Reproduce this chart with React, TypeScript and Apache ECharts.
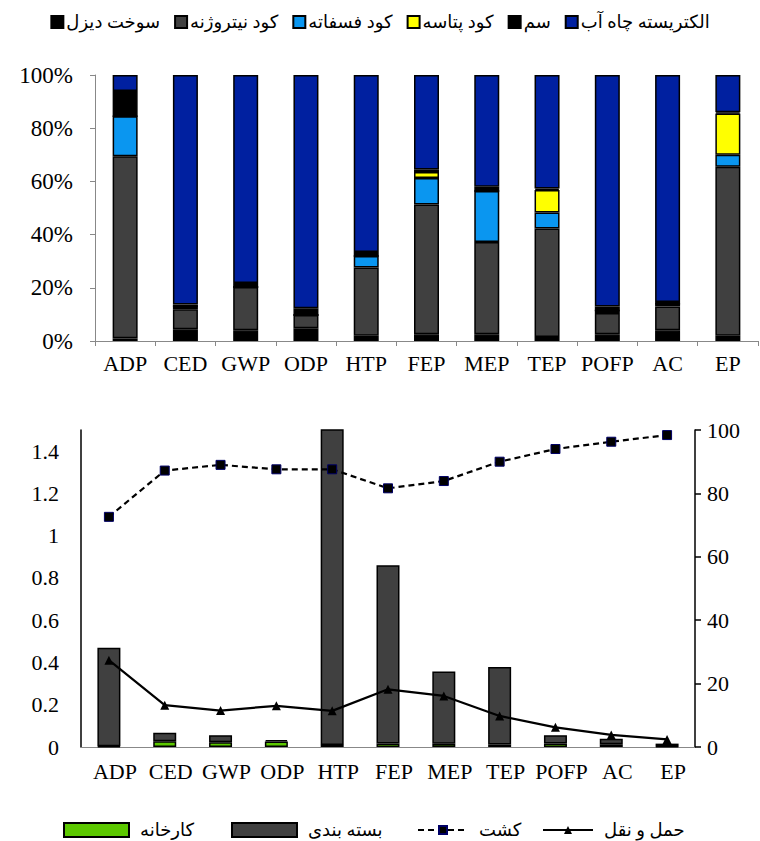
import React, { useEffect, useRef } from 'react';
import * as echarts from 'echarts';

const categories = ['ADP', 'CED', 'GWP', 'ODP', 'HTP', 'FEP', 'MEP', 'TEP', 'POFP', 'AC', 'EP'];

// Top chart: shares (%) per input
const diesel = [1, 4.4, 4, 4.8, 2, 2.5, 2.5, 1.5, 2.5, 4, 2];
const nitrogen = [68.5, 7.5, 16.3, 5, 25.6, 48.8, 34.7, 40.8, 8, 9, 63.5];
const phosphate = [15, 1.2, 0, 0, 4.4, 10, 19.2, 6, 1, 1, 4.5];
const potash = [0, 0, 0, 0, 0, 2.2, 0, 8.5, 0, 0, 15.5];
const poison = [9.5, 0.6, 1.5, 2.5, 1.5, 1, 1.6, 0.5, 1.5, 0.7, 0.5];
const electricity = [6, 86.3, 78.2, 87.7, 66.5, 35.5, 42, 42.7, 87, 85.3, 14];

const topNames = ['سوخت دیزل', 'کود نیتروژنه', 'کود فسفاته', 'کود پتاسه', 'سم', 'الکتریسته چاه آب'];
const topColors = ['#000000', '#404040', '#0a96f0', '#ffff00', '#000000', '#0020a0'];
const topSeries = [diesel, nitrogen, phosphate, potash, poison, electricity];
const topTicks = ['0%', '20%', '40%', '60%', '80%', '100%'];

// Bottom chart
const factory = [0.003, 0.027, 0.022, 0.026, 0.01, 0.016, 0.015, 0.012, 0.016, 0.013, 0.002];
const packaging = [0.467, 0.04, 0.034, 0.007, 2.0, 0.844, 0.342, 0.367, 0.04, 0.026, 0.014];
const cultivation = [72.6, 87.2, 89, 87.6, 87.6, 81.6, 83.9, 90, 94, 96.3, 98.4];
const transport = [27.4, 13.2, 11.5, 13, 11.4, 18.2, 16.1, 9.8, 6.2, 3.8, 2.4];
const bottomNames = ['کارخانه', 'بسته بندی', 'کشت', 'حمل و نقل'];

const FONT = "'Liberation Serif', 'DejaVu Sans', serif";

export default function App() {
  const ref = useRef<HTMLDivElement>(null);
  useEffect(() => {
    document.body.style.margin = '0';
    const chart = echarts.init(ref.current!, undefined, { renderer: 'svg' });
    const legText = { fontFamily: FONT, fontSize: 18, color: '#000' };
    const bottomLegendLeft = [58, 226, 412, 537];
    const option: any = {
      animation: false,
      backgroundColor: '#ffffff',
      textStyle: { fontFamily: FONT, color: '#000' },
      legend: [
        {
          top: 8,
          left: 'center',
          itemWidth: 12,
          itemHeight: 12,
          itemGap: 14,
          icon: 'rect',
          data: topNames,
          textStyle: { ...legText, padding: [0, 0, 0, -2] },
        },
        ...bottomNames.map((n, i) => ({
          top: 816,
          left: bottomLegendLeft[i],
          itemWidth: i < 2 ? 65 : 50,
          itemHeight: i < 2 ? 14 : 10,
          icon: i < 2 ? 'rect' : undefined,
          data: [n],
          textStyle: { ...legText, padding: [0, 0, 0, 6] },
        })),
      ],
      grid: [
        { left: 95, top: 75, width: 663, height: 266, containLabel: false },
        { left: 81, top: 430, width: 614, height: 317, containLabel: false },
      ],
      xAxis: [
        {
          type: 'category',
          gridIndex: 0,
          data: categories,
          axisLine: { show: true, lineStyle: { color: '#888', width: 1 } },
          axisTick: { show: true, inside: false, length: 5, lineStyle: { color: '#888' } },
          axisLabel: { fontFamily: FONT, fontSize: 22, color: '#000', margin: 11, interval: 0 },
        },
        {
          type: 'category',
          gridIndex: 1,
          data: categories,
          axisLine: { show: true, lineStyle: { color: '#888', width: 1 } },
          axisTick: { show: false },
          axisLabel: { fontFamily: FONT, fontSize: 22, color: '#000', margin: 13, interval: 0, padding: [0, 0, 0, 12] },
        },
      ],
      yAxis: [
        {
          type: 'value',
          gridIndex: 0,
          min: 0,
          max: 100,
          interval: 20,
          splitLine: { show: false },
          axisLine: { show: true, lineStyle: { color: '#888', width: 1 } },
          axisTick: { show: true, length: 5, lineStyle: { color: '#888' } },
          axisLabel: {
            fontFamily: FONT,
            fontSize: 23,
            color: '#000',
            margin: 22,
            formatter: (v: number) => topTicks[Math.round(v / 20)],
          },
        },
        {
          type: 'value',
          gridIndex: 1,
          min: 0,
          max: 1.5,
          interval: 0.2,
          splitLine: { show: false },
          axisLine: { show: true, lineStyle: { color: '#000', width: 1.5 } },
          axisTick: { show: false },
          axisLabel: {
            fontFamily: FONT,
            fontSize: 22,
            color: '#000',
            margin: 22,
            showMaxLabel: false,
            formatter: (v: number) => (v > 1.45 ? '' : String(+v.toFixed(1))),
          },
        },
        {
          type: 'value',
          gridIndex: 1,
          position: 'right',
          min: 0,
          max: 100,
          interval: 20,
          splitLine: { show: false },
          axisLine: { show: true, lineStyle: { color: '#000', width: 1.5 } },
          axisTick: { show: true, length: 6, lineStyle: { color: '#000', width: 1.5 } },
          axisLabel: { fontFamily: FONT, fontSize: 22, color: '#000', margin: 12 },
        },
      ],
      series: [
        ...topSeries.map((d, i) => ({
          name: topNames[i],
          type: 'bar',
          stack: 'top',
          xAxisIndex: 0,
          yAxisIndex: 0,
          barWidth: 25,
          data: d,
          itemStyle: { color: topColors[i], borderColor: '#000', borderWidth: 1.5 },
        })),
        {
          name: bottomNames[0],
          type: 'bar',
          stack: 'bottom',
          xAxisIndex: 1,
          yAxisIndex: 1,
          barWidth: 23,
          data: factory,
          itemStyle: { color: '#5cc800', borderColor: '#000', borderWidth: 1.5 },
        },
        {
          name: bottomNames[1],
          type: 'bar',
          stack: 'bottom',
          xAxisIndex: 1,
          yAxisIndex: 1,
          barWidth: 23,
          clip: true,
          data: packaging,
          itemStyle: { color: '#404040', borderColor: '#000', borderWidth: 1.5 },
        },
        {
          name: bottomNames[2],
          type: 'line',
          xAxisIndex: 1,
          yAxisIndex: 2,
          data: cultivation,
          symbol: 'rect',
          symbolSize: 9,
          lineStyle: { color: '#000', width: 2.2, type: [6, 4] },
          itemStyle: { color: '#000', borderColor: '#000066', borderWidth: 1 },
        },
        {
          name: bottomNames[3],
          type: 'line',
          xAxisIndex: 1,
          yAxisIndex: 2,
          data: transport,
          symbol: 'triangle',
          symbolSize: 9,
          lineStyle: { color: '#000', width: 2.2 },
          itemStyle: { color: '#000' },
        },
      ],
    };
    chart.setOption(option);
    return () => chart.dispose();
  }, []);
  return <div ref={ref} style={{ width: 760, height: 841 }} />;
}
